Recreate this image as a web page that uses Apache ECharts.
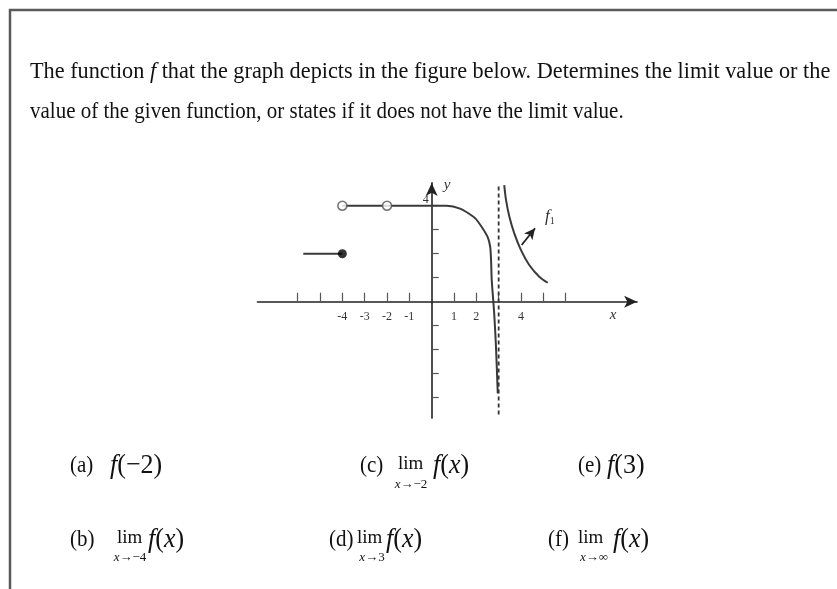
<!DOCTYPE html>
<html>
<head>
<meta charset="utf-8">
<script src="https://cdn.jsdelivr.net/npm/echarts@6/dist/echarts.min.js"></script>
<style>
html,body{margin:0;padding:0;background:#fff;}
#c{width:837px;height:589px;}
</style>
</head>
<body>
<div id="c"></div>
<script>
// ---- data ----
const lowerBranch = [[-5.75, 2], [-4, 2]];
const upperFlat = [[-4, 4], [-2, 4], [0, 4]];
const mainCurve = [[0, 4], [0.67, 4.0], [1.27, 3.88], [1.87, 3.54], [2.08, 3.33], [2.5, 2.71], [2.62, 2.29], [2.66, 1.74], [2.69, 0.9], [2.8, -0.48], [2.88, -1.88], [2.96, -3.82]];
const f1Curve = [[3.25, 4.86], [3.33, 4.24], [3.48, 3.54], [3.7, 2.85], [4.0, 2.15], [4.37, 1.53], [4.82, 1.04], [5.2, 0.79]];
const openPoints = [[-4, 4], [-2, 4]];
const closedPoints = [[-4, 2]];
const asymptote = [[3, -4.7], [3, 4.9]];
const f1Arrow = [[4.03, 2.36], [4.63, 3.06]];
const xTicks = [-6, -5, -4, -3, -2, -1, 1, 2, 3, 4, 5, 6];
const xLabels = [-4, -3, -2, -1, 1, 2, 4];
const yTicks = [-4, -3, -2, -1, 1, 2, 3, 4];
const yLabels = [4];

const SERIF = '"Liberation Serif","Times New Roman",serif';

function T(x, y, text, o) {
  o = o || {};
  const st = Object.assign({
    text: text,
    fill: '#111',
    textAlign: o.align || 'left',
    align: o.align || 'left',
    textVerticalAlign: 'middle',
    verticalAlign: 'middle',
    font: o.font || ('21px ' + SERIF)
  }, o.style || {});
  return { type: 'text', x: x, y: y, silent: true, z: 100, scaleX: o.sx || 1, scaleY: o.sy || 1, style: st };
}
const mathRich = {
  i: { fontStyle: 'italic', fontSize: 26, fontFamily: SERIF, fill: '#111', color: '#111' },
  n: { fontSize: 26, fontFamily: SERIF, fill: '#111', color: '#111' }
};
function M(x, y, text) { return T(x, y, text, { sy: 1.05, style: { rich: mathRich } }); }
const subRich = {
  i: { fontStyle: 'italic', fontSize: 13, fontFamily: SERIF, fill: '#111', color: '#111' },
  n: { fontSize: 13, fontFamily: SERIF, fill: '#111', color: '#111' }
};
function S(x, y, text) { return T(x, y, text, { align: 'center', style: { rich: subRich } }); }
function L(x, y, text) { return T(x, y, text, { sy: 1.12 }); }
const fX = '{i|f}{n|(}{i|x}{n|)}';

const chart = echarts.init(document.getElementById('c'), null, { renderer: 'canvas' });

const lineStyle = { color: '#3a3a3a', width: 2 };

// grid geometry: x from -7.8 to 9.2, y from -4.85 to 4.95
const GRID = { left: 257.5, right: 199.9, top: 182.9, bottom: 170.9 };

const option = {
  backgroundColor: '#ffffff',
  animation: false,
  grid: Object.assign({ containLabel: false }, GRID),
  xAxis: {
    type: 'value', min: -7.8, max: 9.2,
    position: 'bottom',
    offset: -116.4,
    splitLine: { show: false },
    axisLine: { onZero: false, symbol: ['none', 'arrow'], symbolSize: [9, 13], lineStyle: { color: '#222', width: 1.6 } },
    axisTick: { show: true, inside: true, length: 9, customValues: xTicks, lineStyle: { color: '#555', width: 1.2 } },
    axisLabel: { customValues: xLabels, margin: 9, fontSize: 12, fontFamily: SERIF, color: '#333' }
  },
  yAxis: {
    type: 'value', min: -4.85, max: 4.95,
    position: 'left',
    offset: -174.2,
    splitLine: { show: false },
    axisLine: { onZero: false, symbol: ['none', 'arrow'], symbolSize: [9, 13], lineStyle: { color: '#222', width: 1.6 } },
    axisTick: { show: true, inside: true, length: 7, customValues: yTicks, lineStyle: { color: '#555', width: 1.2 } },
    axisLabel: { customValues: yLabels, margin: 3, fontSize: 12, fontFamily: SERIF, color: '#333', verticalAlign: 'bottom' }
  },
  series: [
    { type: 'line', data: lowerBranch, symbol: 'none', lineStyle: lineStyle, silent: true },
    { type: 'line', data: upperFlat, symbol: 'none', lineStyle: lineStyle, silent: true },
    { type: 'line', data: mainCurve, symbol: 'none', smooth: 0.25, lineStyle: lineStyle, silent: true },
    {
      type: 'line', data: f1Curve, symbol: 'none', smooth: 0.3, lineStyle: lineStyle, silent: true,
      markLine: {
        silent: true, symbol: ['none', 'arrow'], symbolSize: [8, 11],
        label: { show: false },
        lineStyle: { color: '#222', width: 1.8, type: 'solid' },
        data: [[{ coord: f1Arrow[0] }, { coord: f1Arrow[1] }]]
      }
    },
    { type: 'line', data: asymptote, symbol: 'none', lineStyle: { color: '#333', width: 1.8, type: [4, 3] }, silent: true },
    { type: 'scatter', data: closedPoints, symbol: 'circle', symbolSize: 9, itemStyle: { color: '#000' }, silent: true, z: 5 },
    { type: 'scatter', data: openPoints, symbol: 'circle', symbolSize: 9, itemStyle: { color: '#fff', borderColor: '#555', borderWidth: 1.6 }, silent: true, z: 5 }
  ],
  graphic: [
    { type: 'rect', silent: true, shape: { x: 10, y: 10, width: 900, height: 700 }, style: { fill: 'none', stroke: '#5a5a5a', lineWidth: 2.5 } },
    T(30, 72, '{n|The function }{i|f}{n| that the graph depicts in the figure below. Determines the limit value or the}', {
      sx: 1.06, sy: 1.12,
      style: { rich: { n: { fontSize: 21, fontFamily: SERIF, fill: '#111' }, i: { fontSize: 21, fontStyle: 'italic', fontFamily: SERIF, fill: '#111' } } }
    }),
    T(30, 112, 'value of the given function, or states if it does not have the limit value.', { sy: 1.12, font: '21px ' + SERIF }),
    // axis names and f1 label
    T(613, 315, 'x', { align: 'center', font: 'italic 15px ' + SERIF, style: { fill: '#333' } }),
    T(447, 185, 'y', { align: 'center', font: 'italic 15px ' + SERIF, style: { fill: '#333' } }),
    T(545, 217, '{f|f}{s|1}', { style: { rich: { f: { fontSize: 17, fontStyle: 'italic', fontFamily: SERIF, fill: '#333' }, s: { fontSize: 10, fontFamily: SERIF, fill: '#333', padding: [8, 0, 0, 0] } } } }),
    // row 1
    L(70, 466, '(a)'),
    M(110, 466, '{i|f}{n|(−2)}'),
    L(360, 466, '(c)'),
    T(398, 464, 'lim', { font: '19px ' + SERIF }),
    S(411, 485, '{i|x}{n|→−2}'),
    M(433, 466, fX),
    L(578, 466, '(e)'),
    M(607, 466, '{i|f}{n|(3)}'),
    // row 2
    L(70, 540, '(b)'),
    T(117, 538, 'lim', { font: '19px ' + SERIF }),
    S(130, 558, '{i|x}{n|→−4}'),
    M(148, 540, fX),
    L(329, 540, '(d)'),
    T(357, 538, 'lim', { font: '19px ' + SERIF }),
    S(372, 558, '{i|x}{n|→3}'),
    M(386, 540, fX),
    L(548, 540, '(f)'),
    T(578, 538, 'lim', { font: '19px ' + SERIF }),
    S(594, 558, '{i|x}{n|→∞}'),
    M(613, 540, fX)
  ]
};
chart.setOption(option);
</script>
</body>
</html>
